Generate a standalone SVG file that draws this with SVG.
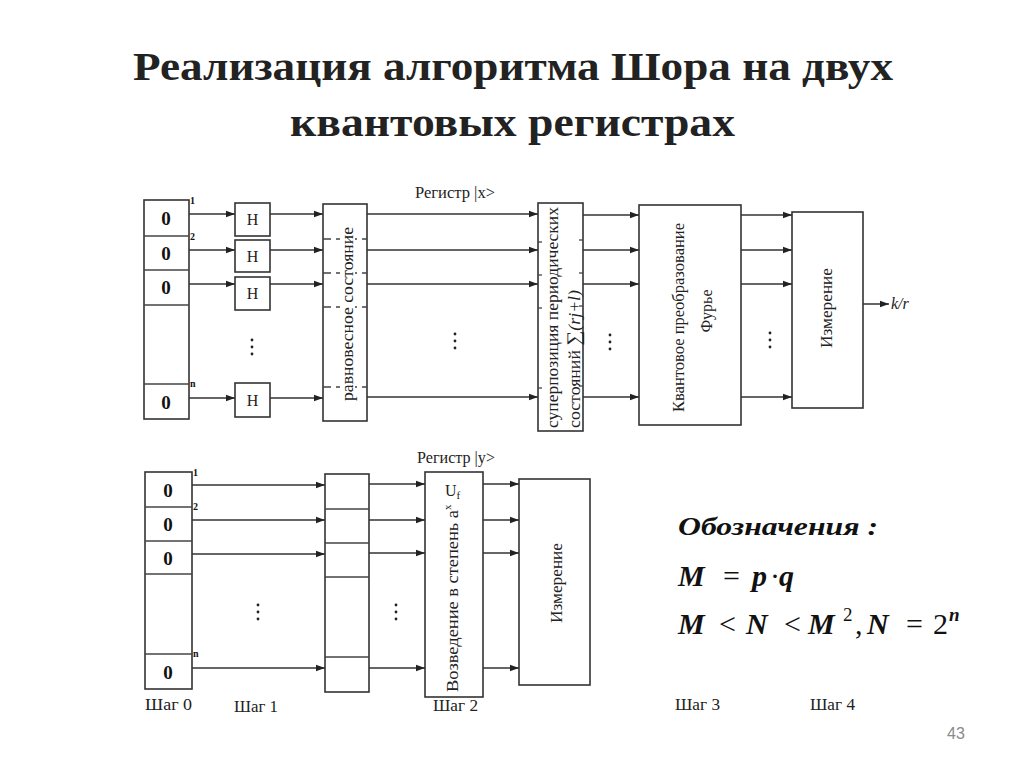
<svg xmlns="http://www.w3.org/2000/svg" width="1024" height="767" viewBox="0 0 1024 767">
<defs>
<marker id="ah" markerUnits="userSpaceOnUse" markerWidth="10" markerHeight="8" refX="9" refY="4" orient="auto">
<path d="M0,0.8 L9,4 L0,7.2 Z" fill="#222"/>
</marker>
<style>
.box{fill:#fff;stroke:#333;stroke-width:1.6}
.cl{stroke:#444;stroke-width:1.3}
.dl{stroke:#444;stroke-width:1.3;stroke-dasharray:8 5}
.ar{stroke:#333;stroke-width:1.5;fill:none;marker-end:url(#ah)}
.t{font-family:"Liberation Serif","Times New Roman",serif;fill:#222}
.z{font-family:"Liberation Serif",serif;font-weight:bold;font-size:19px;fill:#111;text-anchor:middle}
.ix{font-family:"Liberation Serif",serif;font-weight:bold;font-size:10px;fill:#111}
.dot{fill:#222}
.bi{font-family:"Liberation Serif",serif;font-weight:bold;font-style:italic;fill:#111}
.rg{font-family:"Liberation Serif",serif;fill:#111}
</style>
</defs>
<rect width="1024" height="767" fill="#fff"/>

<g id="title">
<text class="t" x="133" y="80" font-size="40" font-weight="bold" fill="#111" textLength="760" lengthAdjust="spacingAndGlyphs">Реализация алгоритма Шора на двух</text>
<text class="t" x="290" y="136" font-size="40" font-weight="bold" fill="#111" textLength="445" lengthAdjust="spacingAndGlyphs">квантовых регистрах</text>
</g>

<g id="reg-x-input">
<rect class="box" x="144" y="200" width="45" height="219"/>
<line class="cl" x1="144" y1="236" x2="189" y2="236"/>
<line class="cl" x1="144" y1="270" x2="189" y2="270"/>
<line class="cl" x1="144" y1="305" x2="189" y2="305"/>
<line class="cl" x1="144" y1="384" x2="189" y2="384"/>
<text class="z" x="166" y="225">0</text>
<text class="z" x="166" y="260">0</text>
<text class="z" x="166" y="294">0</text>
<text class="z" x="166" y="409">0</text>
<text class="ix" x="190" y="204">1</text>
<text class="ix" x="190" y="240">2</text>
<text class="ix" x="190" y="387">n</text>
</g>

<g id="hadamard">
<rect class="box" x="235" y="203" width="35" height="33"/>
<rect class="box" x="235" y="240" width="35" height="32"/>
<rect class="box" x="235" y="277" width="35" height="33"/>
<rect class="box" x="235" y="383" width="35" height="34"/>
<text class="t" x="252.5" y="225" font-size="16" text-anchor="middle">H</text>
<text class="t" x="252.5" y="262" font-size="16" text-anchor="middle">H</text>
<text class="t" x="252.5" y="299" font-size="16" text-anchor="middle">H</text>
<text class="t" x="252.5" y="406" font-size="16" text-anchor="middle">H</text>
</g>

<g id="equal-state">
<rect class="box" x="323" y="204" width="44" height="217"/>
<line class="dl" x1="323" y1="239" x2="367" y2="239"/>
<line class="dl" x1="323" y1="273" x2="367" y2="273"/>
<line class="dl" x1="323" y1="307" x2="367" y2="307"/>
<line class="dl" x1="323" y1="387" x2="367" y2="387"/>
<rect x="340" y="226" width="15" height="176" fill="#fff"/>
<text class="t" transform="translate(353,401) rotate(-90)" font-size="17" textLength="174" lengthAdjust="spacingAndGlyphs">равновесное состояние</text>
</g>

<g id="superposition">
<rect class="box" x="538" y="203" width="45" height="228"/>
<line class="cl" x1="538" y1="242" x2="542" y2="242"/>
<line class="cl" x1="538" y1="275" x2="542" y2="275"/>
<line class="cl" x1="538" y1="308" x2="542" y2="308"/>
<line class="cl" x1="538" y1="388" x2="542" y2="388"/>
<line class="cl" x1="579" y1="240" x2="583" y2="240"/>
<line class="cl" x1="579" y1="273" x2="583" y2="273"/>
<line class="cl" x1="579" y1="306" x2="583" y2="306"/>
<line class="cl" x1="579" y1="386" x2="583" y2="386"/>
<text class="t" transform="translate(558,428) rotate(-90)" font-size="16" textLength="221" lengthAdjust="spacingAndGlyphs">суперпозиция периодических</text>
<text class="t" transform="translate(580,428) rotate(-90)" font-size="16" textLength="138" lengthAdjust="spacingAndGlyphs">состояний <tspan font-size="19">∑</tspan><tspan font-style="italic">(rj+l)</tspan></text>
</g>

<g id="qft">
<rect class="box" x="639" y="205" width="102" height="220"/>
<text class="t" transform="translate(684,412) rotate(-90)" font-size="16.5" textLength="189" lengthAdjust="spacingAndGlyphs">Квантовое преобразование</text>
<text class="t" transform="translate(712,311) rotate(-90)" font-size="16" text-anchor="middle">Фурье</text>
</g>

<g id="measure-x">
<rect class="box" x="792" y="212" width="71" height="196"/>
<text class="t" transform="translate(832,348) rotate(-90)" font-size="17" textLength="80" lengthAdjust="spacingAndGlyphs">Измерение</text>
</g>

<g id="reg-y-input">
<rect class="box" x="145" y="472" width="47" height="217"/>
<line class="cl" x1="145" y1="507" x2="192" y2="507"/>
<line class="cl" x1="145" y1="541" x2="192" y2="541"/>
<line class="cl" x1="145" y1="574" x2="192" y2="574"/>
<line class="cl" x1="145" y1="654" x2="192" y2="654"/>
<text class="z" x="168" y="497">0</text>
<text class="z" x="168" y="531">0</text>
<text class="z" x="168" y="565">0</text>
<text class="z" x="168" y="679">0</text>
<text class="ix" x="193" y="476">1</text>
<text class="ix" x="193" y="510">2</text>
<text class="ix" x="193" y="657">n</text>
</g>

<g id="reg-y-state">
<rect class="box" x="325" y="474" width="44" height="218"/>
<line class="cl" x1="325" y1="509" x2="369" y2="509"/>
<line class="cl" x1="325" y1="543" x2="369" y2="543"/>
<line class="cl" x1="325" y1="577" x2="369" y2="577"/>
<line class="cl" x1="325" y1="657" x2="369" y2="657"/>
</g>

<g id="power">
<rect class="box" x="425" y="472" width="58" height="225"/>
<text class="t" x="445" y="496" font-size="16">U<tspan font-size="11" dy="3">f</tspan></text>
<text class="t" transform="translate(458,692) rotate(-90)" font-size="17"><tspan textLength="182" lengthAdjust="spacingAndGlyphs">Возведение в степень a</tspan><tspan font-size="11" dy="-7">x</tspan></text>
</g>

<g id="measure-y">
<rect class="box" x="519" y="479" width="71" height="206"/>
<text class="t" transform="translate(562,623) rotate(-90)" font-size="17" textLength="80" lengthAdjust="spacingAndGlyphs">Измерение</text>
</g>

<g id="connectors">
<line class="ar" x1="189" y1="214" x2="235" y2="214"/>
<line class="ar" x1="189" y1="250" x2="235" y2="250"/>
<line class="ar" x1="189" y1="284" x2="235" y2="284"/>
<line class="ar" x1="189" y1="398" x2="235" y2="398"/>
<line class="ar" x1="270" y1="214" x2="323" y2="214"/>
<line class="ar" x1="270" y1="250" x2="323" y2="250"/>
<line class="ar" x1="270" y1="284" x2="323" y2="284"/>
<line class="ar" x1="270" y1="398" x2="323" y2="398"/>
<line class="ar" x1="367" y1="214" x2="538" y2="214"/>
<line class="ar" x1="367" y1="250" x2="538" y2="250"/>
<line class="ar" x1="367" y1="284" x2="538" y2="284"/>
<line class="ar" x1="367" y1="397" x2="538" y2="397"/>
<line class="ar" x1="583" y1="215" x2="639" y2="215"/>
<line class="ar" x1="583" y1="250" x2="639" y2="250"/>
<line class="ar" x1="583" y1="284" x2="639" y2="284"/>
<line class="ar" x1="583" y1="397" x2="639" y2="397"/>
<line class="ar" x1="741" y1="215" x2="792" y2="215"/>
<line class="ar" x1="741" y1="250" x2="792" y2="250"/>
<line class="ar" x1="741" y1="284" x2="792" y2="284"/>
<line class="ar" x1="741" y1="397" x2="792" y2="397"/>
<line class="ar" x1="863" y1="304" x2="889" y2="304"/>
<line class="ar" x1="192" y1="485" x2="325" y2="485"/>
<line class="ar" x1="192" y1="520" x2="325" y2="520"/>
<line class="ar" x1="192" y1="554" x2="325" y2="554"/>
<line class="ar" x1="192" y1="668" x2="325" y2="668"/>
<line class="ar" x1="369" y1="484" x2="425" y2="484"/>
<line class="ar" x1="369" y1="520" x2="425" y2="520"/>
<line class="ar" x1="369" y1="553" x2="425" y2="553"/>
<line class="ar" x1="369" y1="668" x2="425" y2="668"/>
<line class="ar" x1="483" y1="484" x2="519" y2="484"/>
<line class="ar" x1="483" y1="520" x2="519" y2="520"/>
<line class="ar" x1="483" y1="553" x2="519" y2="553"/>
<line class="ar" x1="483" y1="668" x2="519" y2="668"/>
</g>

<g id="ellipses">
<circle class="dot" cx="252" cy="340" r="1.4"/><circle class="dot" cx="252" cy="347" r="1.4"/><circle class="dot" cx="252" cy="354" r="1.4"/>
<circle class="dot" cx="455" cy="334" r="1.4"/><circle class="dot" cx="455" cy="341" r="1.4"/><circle class="dot" cx="455" cy="348" r="1.4"/>
<circle class="dot" cx="610" cy="335" r="1.4"/><circle class="dot" cx="610" cy="342" r="1.4"/><circle class="dot" cx="610" cy="349" r="1.4"/>
<circle class="dot" cx="770" cy="333" r="1.4"/><circle class="dot" cx="770" cy="340" r="1.4"/><circle class="dot" cx="770" cy="347" r="1.4"/>
<circle class="dot" cx="258" cy="605" r="1.4"/><circle class="dot" cx="258" cy="612" r="1.4"/><circle class="dot" cx="258" cy="619" r="1.4"/>
<circle class="dot" cx="396" cy="605" r="1.4"/><circle class="dot" cx="396" cy="612" r="1.4"/><circle class="dot" cx="396" cy="619" r="1.4"/>
</g>

<g id="labels">
<text class="t" x="415" y="198" font-size="16" textLength="80" lengthAdjust="spacingAndGlyphs">Регистр |x&gt;</text>
<text class="t" x="417" y="463" font-size="16" textLength="78" lengthAdjust="spacingAndGlyphs">Регистр |y&gt;</text>
<text class="t" x="891" y="309" font-size="16" font-style="italic">k/r</text>
<text class="t" x="145" y="710" font-size="17" textLength="47" lengthAdjust="spacingAndGlyphs">Шаг 0</text>
<text class="t" x="234" y="712" font-size="17" textLength="44" lengthAdjust="spacingAndGlyphs">Шаг 1</text>
<text class="t" x="433" y="711" font-size="17" textLength="45" lengthAdjust="spacingAndGlyphs">Шаг 2</text>
<text class="t" x="675" y="710" font-size="17" textLength="45" lengthAdjust="spacingAndGlyphs">Шаг 3</text>
<text class="t" x="810" y="710" font-size="17" textLength="45" lengthAdjust="spacingAndGlyphs">Шаг 4</text>
<text x="947" y="739" font-family="'Liberation Sans',Arial,sans-serif" font-size="16" fill="#8a8a8a">43</text>
</g>

<g id="legend">
<text class="bi" x="678" y="535" font-size="25" textLength="200" lengthAdjust="spacingAndGlyphs">Обозначения :</text>
<text y="586" font-size="30"><tspan class="bi" x="678">M</tspan><tspan class="rg" x="723">=</tspan><tspan class="bi" x="752">p</tspan><tspan class="rg" x="770">·</tspan><tspan class="bi" x="779">q</tspan></text>
<text y="634" font-size="30"><tspan class="bi" x="678">M</tspan><tspan class="rg" x="719">&lt;</tspan><tspan class="bi" x="746">N</tspan><tspan class="rg" x="784">&lt;</tspan><tspan class="bi" x="808">M</tspan><tspan class="rg" x="843" font-size="19" dy="-13">2</tspan><tspan class="rg" x="855" dy="13">,</tspan><tspan class="bi" x="867">N</tspan><tspan class="rg" x="906">=</tspan><tspan class="rg" x="933">2</tspan><tspan class="bi" x="949" font-size="19" dy="-13">n</tspan></text>
</g>
</svg>
